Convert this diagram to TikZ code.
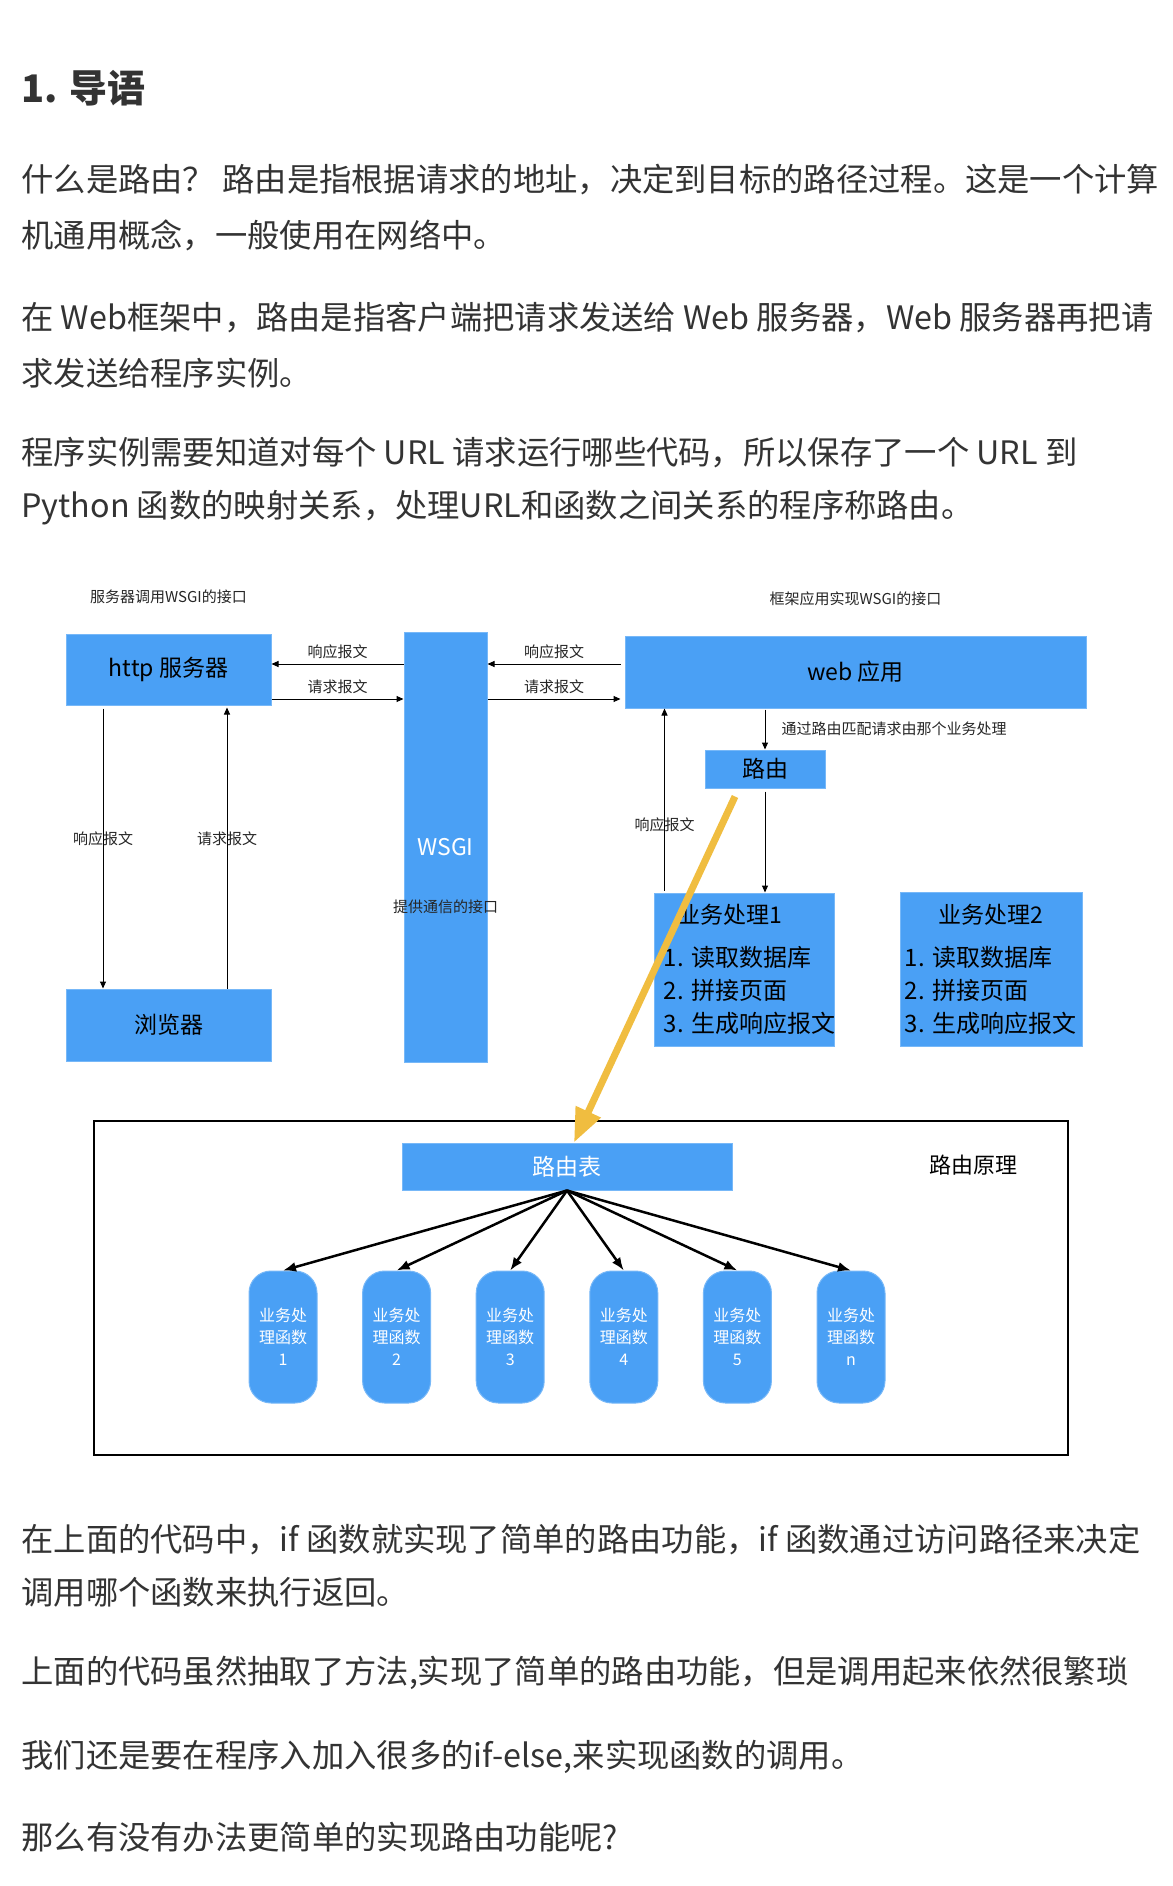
\documentclass[tikz,border=0pt]{standalone}
\usepackage{fontspec}
\setmainfont{Noto Sans CJK SC}
\usetikzlibrary{positioning,arrows.meta}
\definecolor{boxblue}{HTML}{4AA0F5}
\definecolor{txtgray}{HTML}{333333}
\definecolor{arrowyellow}{HTML}{F0BD40}
\newcommand{\fsz}[2]{\fontsize{#1}{#2}\selectfont}

\begin{document}
\begin{tikzpicture}[x=1pt, y=-1pt, node distance=28pt, thick,
    box node/.style={rectangle,fill=boxblue,draw=boxblue!75!white,line width=1pt,inner sep=0pt,font=\fsz{23}{23},text=black},
    pill node/.style={box node,rounded corners=22pt,minimum width=68pt,minimum height=132pt,align=center,text=white,font=\fsz{16}{22}},
    small node/.style={font=\fsz{15}{15},text=black!85,inner sep=2pt},
    text node/.style={anchor=west,inner sep=0pt,text=txtgray,font=\fsz{32.3}{32.3}},
    arr/.style={-{Triangle[length=7pt,width=6pt]},line width=1pt,black},
    fan/.style={-{Latex[length=13pt,width=10pt]},line width=2.5pt,black},
    yel/.style={-{Triangle[length=34pt,width=26pt]},line width=7pt,arrowyellow}]

  \fill[white] (0,0) rectangle (1172,1886);

  % article text
  \node[text node,font=\fsz{38}{38}\bfseries] (h) at (21,88) {1. 导语};
  \node[text node] (p1) at (21,180) {什么是路由？ 路由是指根据请求的地址，决定到目标的路径过程。这是一个计算};
  \node[text node] (p2) at (21,235) {机通用概念，一般使用在网络中。};
  \node[text node] (p3) at (21,318) {在 Web框架中，路由是指客户端把请求发送给 Web 服务器，Web 服务器再把请};
  \node[text node] (p4) at (21,373) {求发送给程序实例。};
  \node[text node] (p5) at (21,453) {程序实例需要知道对每个 URL 请求运行哪些代码，所以保存了一个 URL 到};
  \node[text node] (p6) at (21,508) {Python 函数的映射关系，处理URL和函数之间关系的程序称路由。};

  \node[text node] (q1) at (21,1540) {在上面的代码中，if 函数就实现了简单的路由功能，if 函数通过访问路径来决定};
  \node[text node] (q2) at (21,1592) {调用哪个函数来执行返回。};
  \node[text node] (q3) at (21,1673) {上面的代码虽然抽取了方法,实现了简单的路由功能，但是调用起来依然很繁琐};
  \node[text node] (q4) at (21,1757) {我们还是要在程序入加入很多的if-else,来实现函数的调用。};
  \node[text node] (q5) at (21,1837) {那么有没有办法更简单的实现路由功能呢?};

  % server side
  \node[box node,minimum width=205pt,minimum height=71pt] (1) at (168.5,669.5) {http 服务器};
  \node[box node,minimum width=205pt,minimum height=72pt,below=283pt of 1] (2) {浏览器};
  \node[small node,above=27pt of 1] (1t) {服务器调用WSGI的接口};
  \node[box node,minimum width=83pt,minimum height=430pt,text=white] (3) at (445.5,847) {WSGI};
  \node[small node] (3t) at ([yshift=-60pt]3.center) {提供通信的接口};

  % application side
  \node[box node,minimum width=461pt,minimum height=72pt] (4) at (855.5,672) {web 应用};
  \node[small node,above=27pt of 4] (4t) {框架应用实现WSGI的接口};
  \node[box node,minimum width=120pt,minimum height=38pt] (5) at (765,769) {路由};
  \node[box node,minimum width=180pt,minimum height=153pt] (6) at (744,969.5) {};
  \node[box node,minimum width=182pt,minimum height=154pt,right=65pt of 6] (7) {};
  \node[font=\fsz{23}{23},below=8pt of 6.north,xshift=-14pt] (6a) {业务处理1};
  \node[font=\fsz{24}{33},align=left,anchor=west,inner sep=0pt] (6b) at ([xshift=10pt,yshift=-20.5pt]6.west) {1. 读取数据库\\2. 拼接页面\\3. 生成响应报文};
  \node[font=\fsz{23}{23},below=8pt of 7.north] (7a) {业务处理2};
  \node[font=\fsz{24}{33},align=left,anchor=west,inner sep=0pt] (7b) at ([xshift=5pt,yshift=-21pt]7.west) {1. 读取数据库\\2. 拼接页面\\3. 生成响应报文};

  \coordinate (a) at ([yshift=5.5pt]1.east);
  \coordinate (b) at ([yshift=-29.5pt]1.east);
  \coordinate (c) at ([xshift=-4pt]4.west);
  \coordinate (d) at ([xshift=37.5pt]1.south west);
  \coordinate (e) at ([xshift=161.5pt]2.north west);
  \coordinate (g) at ([xshift=11pt]6.north west);

  \draw[arr] (3.west |- a) -- node[small node,above=3pt] {响应报文} (a);
  \draw[arr] (b) -- node[small node,above=3pt] {请求报文} (3.west |- b);
  \draw[arr] (c |- a) -- node[small node,above=3pt] {响应报文} (3.east |- a);
  \draw[arr] (3.east |- b) -- node[small node,above=3pt] {请求报文} (c |- b);
  \draw[arr,shorten <=3pt] (d) -- node[small node,pos=0.47] {响应报文} (d |- 2.north);
  \draw[arr,shorten >=2pt] (e) -- node[small node,pos=0.53] {请求报文} (e |- 1.south);
  \draw[arr,shorten <=2pt] (g) -- node[small node,pos=0.37] {响应报文} (g |- 4.south);
  \draw[arr,shorten <=1pt] (5.north |- 4.south) -- node[small node,right=14pt] {通过路由匹配请求由那个业务处理} (5.north);
  \draw[arr,shorten <=3pt] (5.south) -- (5.south |- 6.north);

  % routing table
  \draw[line width=2.5pt] (94,1121) rectangle (1068,1455);
  \node[box node,minimum width=330pt,minimum height=47pt,text=white] (8) at (567,1166.5) {路由表};
  \node[font=\fsz{22}{22}] (9) at (973,1165) {路由原理};

  \node[pill node] (11) at (283,1337) {业务处\\理函数\\1};
  \node[pill node,right=44.6pt of 11] (12) {业务处\\理函数\\2};
  \node[pill node,right=44.6pt of 12] (13) {业务处\\理函数\\3};
  \node[pill node,right=44.6pt of 13] (14) {业务处\\理函数\\4};
  \node[pill node,right=44.6pt of 14] (15) {业务处\\理函数\\5};
  \node[pill node,right=44.6pt of 15] (16) {业务处\\理函数\\n};

  \path[fan] (8.south) edge (11.north)
                       edge (12.north)
                       edge (13.north)
                       edge (14.north)
                       edge (15.north)
                       edge (16.north);

  \coordinate (y1) at ([xshift=-30pt,yshift=-8pt]5.south);
  \draw[yel] (y1) -- ([xshift=7pt]8.north);
\end{tikzpicture}
\end{document}
